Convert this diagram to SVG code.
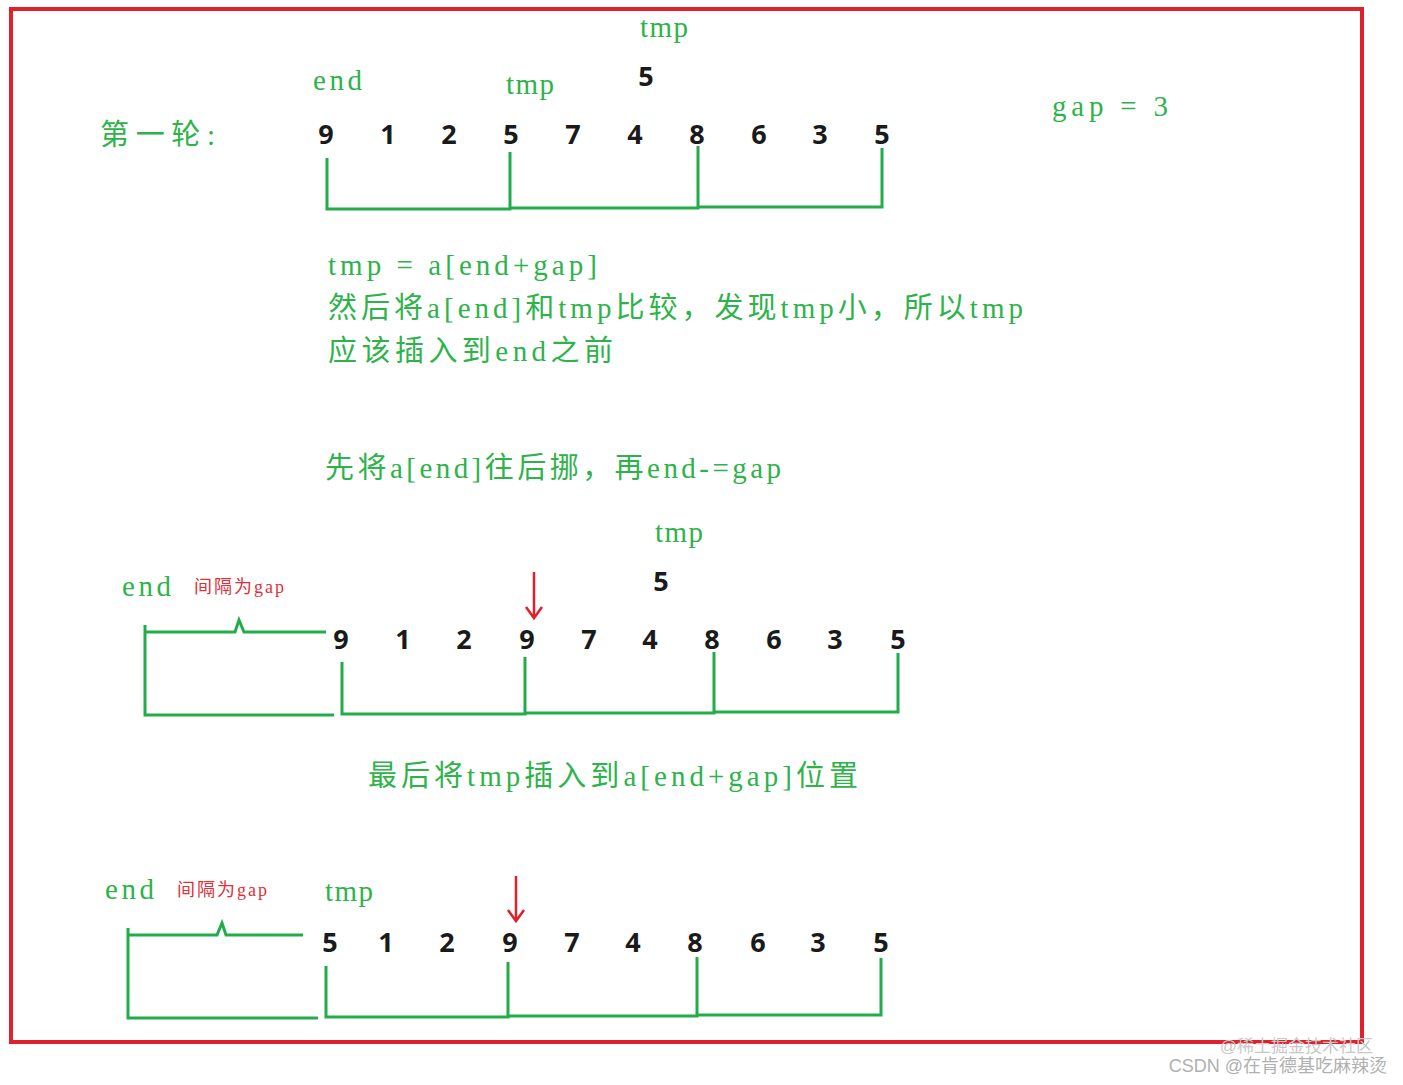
<svg xmlns="http://www.w3.org/2000/svg" width="1403" height="1085" viewBox="0 0 1403 1085">
<style>
.n{font-family:"Open Sans","Liberation Sans",sans-serif;font-weight:bold;font-size:27px;fill:#1a1a1a;text-anchor:middle}
.g{font-family:"Liberation Serif","Noto Sans CJK SC",serif;font-size:29px;fill:#2db34a}
.r{font-family:"Liberation Serif","Noto Sans CJK SC",serif;font-size:18px;fill:#e0303a}
.l{fill:none;stroke:#22ad4a;stroke-width:3}
.a{fill:none;stroke:#e0202a;stroke-width:2.5}
</style>
<rect width="1403" height="1085" fill="#fff"/>
<rect x="11" y="9" width="1351" height="1033" fill="none" stroke="#e0202a" stroke-width="4"/>
<g id="round1">
<text class="g" x="100" y="145" textLength="115" lengthAdjust="spacing">第一轮:</text>
<text class="g" x="313" y="90" textLength="49" lengthAdjust="spacing">end</text>
<text class="g" x="506" y="94" textLength="48" lengthAdjust="spacing">tmp</text>
<text class="g" x="640" y="37" textLength="48" lengthAdjust="spacing">tmp</text>
<text class="n" x="646" y="86">5</text>
<text class="g" x="1052" y="116" textLength="116" lengthAdjust="spacing">gap = 3</text>
<g><text class="n" x="326" y="144">9</text><text class="n" x="388" y="144">1</text><text class="n" x="449" y="144">2</text><text class="n" x="511" y="144">5</text><text class="n" x="573" y="144">7</text><text class="n" x="635" y="144">4</text><text class="n" x="697" y="144">8</text><text class="n" x="759" y="144">6</text><text class="n" x="820" y="144">3</text><text class="n" x="882" y="144">5</text></g>
<text class="g" x="328" y="275" textLength="269" lengthAdjust="spacing">tmp = a[end+gap]</text>
<text class="g" x="328" y="318" textLength="695" lengthAdjust="spacing">然后将a[end]和tmp比较，发现tmp小，所以tmp</text>
<text class="g" x="328" y="361" textLength="285" lengthAdjust="spacing">应该插入到end之前</text>
<text class="g" x="325" y="478" textLength="456" lengthAdjust="spacing">先将a[end]往后挪，再end-=gap</text>
</g>
<g id="round2">
<text class="g" x="655" y="542" textLength="48" lengthAdjust="spacing">tmp</text>
<text class="n" x="661" y="591">5</text>
<text class="g" x="122" y="596" textLength="49" lengthAdjust="spacing">end</text>
<text class="r" x="194" y="593" textLength="90" lengthAdjust="spacing">间隔为gap</text>
<g><text class="n" x="341" y="649">9</text><text class="n" x="403" y="649">1</text><text class="n" x="464" y="649">2</text><text class="n" x="527" y="649">9</text><text class="n" x="589" y="649">7</text><text class="n" x="650" y="649">4</text><text class="n" x="712" y="649">8</text><text class="n" x="774" y="649">6</text><text class="n" x="835" y="649">3</text><text class="n" x="898" y="649">5</text></g>
<text class="g" x="368" y="786" textLength="490" lengthAdjust="spacing">最后将tmp插入到a[end+gap]位置</text>
</g>
<g id="round3">
<text class="g" x="105" y="899" textLength="49" lengthAdjust="spacing">end</text>
<text class="r" x="177" y="896" textLength="90" lengthAdjust="spacing">间隔为gap</text>
<text class="g" x="325" y="901" textLength="48" lengthAdjust="spacing">tmp</text>
<g><text class="n" x="330" y="952">5</text><text class="n" x="386" y="952">1</text><text class="n" x="447" y="952">2</text><text class="n" x="510" y="952">9</text><text class="n" x="572" y="952">7</text><text class="n" x="633" y="952">4</text><text class="n" x="695" y="952">8</text><text class="n" x="758" y="952">6</text><text class="n" x="818" y="952">3</text><text class="n" x="881" y="952">5</text></g>
</g>
<g id="connectors">
<path class="l" d="M327 158V209H510V152M510 208H698V146M698 207H882V148"/>
<path class="l" d="M145 625V715H334M145 632H235L239 620L244 632H326"/>
<path class="l" d="M342 662V714H525V657M525 713H714V652M714 712H898V653"/>
<path class="l" d="M128 928V1018H318M128 935H217L222 923L226 935H303"/>
<path class="l" d="M326 966V1017H508V962M508 1016H697V957M697 1015H881V958"/>
<path class="a" d="M534 572V618M526 607L534 618L542 607"/>
<path class="a" d="M516 876V921M508 910L516 921L524 910"/>
</g>
<text x="1387" y="1072" font-family="Liberation Sans,Noto Sans CJK SC,sans-serif" font-size="18" fill="#b0b0b0" text-anchor="end">CSDN @在肯德基吃麻辣烫</text>
<text x="1373" y="1052" font-family="Liberation Sans,Noto Sans CJK SC,sans-serif" font-size="17" fill="#c8c8c8" text-anchor="end">@稀土掘金技术社区</text>
</svg>
